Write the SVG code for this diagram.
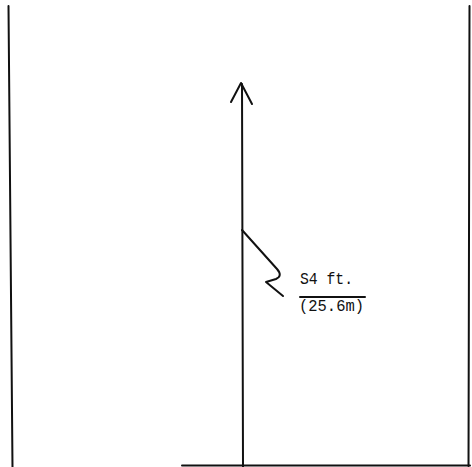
<svg xmlns="http://www.w3.org/2000/svg" width="472" height="467" viewBox="0 0 472 467">
<style>
.ln{stroke:#111;stroke-width:2;fill:none;stroke-linecap:round;stroke-linejoin:round}
.tx{font-family:"Liberation Mono",monospace;font-size:17px;fill:#111}
</style>
<rect width="472" height="467" fill="#fff"/>
<g id="frame">
<line class="ln" x1="8.5" y1="6" x2="12.5" y2="467"/>
<line class="ln" x1="469.5" y1="6" x2="468.5" y2="466"/>
<line class="ln" x1="182" y1="465.5" x2="470" y2="465.5"/>
</g>
<g id="connectors">
<line class="ln" x1="242" y1="84" x2="243" y2="467"/>
<path class="ln" d="M231,102 L241,83 L252,104" stroke-width="3"/>
<path class="ln" d="M242,230 L277,269 Q283,276 276,279 L266,282 L283,296" stroke-width="2.3"/>
</g>
<g id="label">
<text class="tx" x="300" y="284" textLength="53" lengthAdjust="spacingAndGlyphs">S4 ft.</text>
<line class="ln" x1="300" y1="297" x2="365" y2="297"/>
<text class="tx" x="299" y="311" textLength="65" lengthAdjust="spacingAndGlyphs">(25.6m)</text>
</g>
</svg>
